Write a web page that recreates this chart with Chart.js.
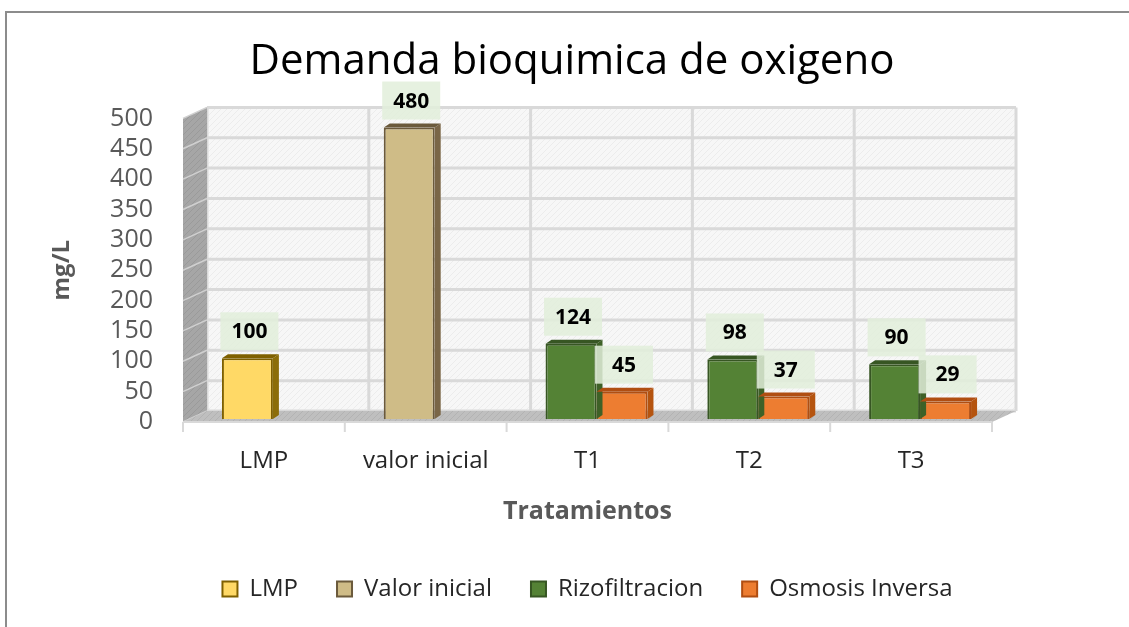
<!DOCTYPE html>
<html>
<head>
<meta charset="utf-8">
<script src="https://cdn.jsdelivr.net/npm/chart.js@4"></script>
<style>
  body { margin: 0; background: #fff; }
  #marco { position: absolute; left: 5px; top: 11px; width: 1200px; height: 700px; border: 2px solid #8c8c8c; }
  #wrap { position: absolute; left: 0; top: 0; width: 1129px; height: 627px; }
</style>
</head>
<body>
<div id="marco"></div>
<div id="wrap"><canvas id="grafico"></canvas></div>
<script>
// datos del grafico
var categorias = ['LMP', 'valor inicial', 'T1', 'T2', 'T3'];
var seriesNombres = ['LMP', 'Valor inicial', 'Rizofiltracion', 'Osmosis Inversa'];
var lmp = [100, null, null, null, null];
var valorInicial = [null, 480, null, null, null];
var rizofiltracion = [null, null, 124, 98, 90];
var osmosisInversa = [null, null, 45, 37, 29];

// colores de cada serie
var rellenos = ['#FFD966', '#CFBC87', '#548235', '#ED7D31'];
var bordes = ['#7F6000', '#6B5A3C', '#375623', '#B04E12'];
var lados = ['#8C6D08', '#7A6647', '#3E6127', '#B5540F'];
var pilas = ['a', 'a', 'a', 'b']; // posicion de cada serie dentro de la categoria

var dx = 24, dy = 11; // profundidad de las paredes
var bx = 6, by = 4;   // profundidad de las barras
var fondoX = 9, fondoY = -3; // las barras van un poco hacia el fondo

function trama(base, linea) {
    var c = document.createElement('canvas');
    c.width = 6; c.height = 6;
    var g = c.getContext('2d');
    g.fillStyle = base; g.fillRect(0, 0, 6, 6);
    g.strokeStyle = linea; g.lineWidth = 1;
    g.beginPath(); g.moveTo(0, 6); g.lineTo(6, 0); g.stroke();
    return c;
}

function poligono(ctx, pts, color) {
    ctx.beginPath();
    ctx.moveTo(pts[0][0], pts[0][1]);
    for (var i = 1; i < pts.length; i++) ctx.lineTo(pts[i][0], pts[i][1]);
    ctx.closePath();
    ctx.fillStyle = color;
    ctx.fill();
}

function linea(ctx, x1, y1, x2, y2) {
    ctx.beginPath(); ctx.moveTo(x1, y1); ctx.lineTo(x2, y2); ctx.stroke();
}

// paredes 3D (fondo, lateral y piso)
var paredes = {
    id: 'paredes',
    beforeDatasetsDraw: function (chart) {
        var ctx = chart.ctx, a = chart.chartArea, y = chart.scales.y;
        var n = categorias.length;
        ctx.save();
        ctx.fillStyle = ctx.createPattern(trama('#f7f7f7', '#ececec'), 'repeat');
        ctx.fillRect(a.left + dx, a.top - dy, a.width, a.height);
        ctx.strokeStyle = '#d9d9d9';
        ctx.lineWidth = 3;
        y.ticks.forEach(function (t) {
            var py = y.getPixelForValue(t.value) - dy;
            linea(ctx, a.left + dx, py, a.right + dx, py);
        });
        for (var i = 0; i <= n; i++) {
            var px = a.left + i * a.width / n + dx;
            linea(ctx, px, a.top - dy, px, a.bottom - dy);
        }
        // pared lateral
        poligono(ctx, [[a.left, a.top], [a.left + dx, a.top - dy], [a.left + dx, a.bottom - dy], [a.left, a.bottom]],
            ctx.createPattern(trama('#a6a6a6', '#9a9a9a'), 'repeat'));
        ctx.strokeStyle = '#d0d0d0';
        ctx.lineWidth = 1.5;
        y.ticks.forEach(function (t) {
            var py = y.getPixelForValue(t.value);
            linea(ctx, a.left, py, a.left + dx, py - dy);
        });
        // piso
        poligono(ctx, [[a.left, a.bottom], [a.right, a.bottom], [a.right + dx, a.bottom - dy], [a.left + dx, a.bottom - dy]],
            ctx.createPattern(trama('#bfbfbf', '#b3b3b3'), 'repeat'));
        ctx.strokeStyle = '#d9d9d9';
        ctx.lineWidth = 2;
        linea(ctx, a.left, a.bottom, a.right, a.bottom);
        for (var k = 0; k <= n; k++) {
            var qx = a.left + k * a.width / n;
            linea(ctx, qx, a.bottom, qx, a.bottom + 10);
        }
        ctx.restore();
        // desplazar las barras hacia el fondo
        ctx.save();
        ctx.translate(fondoX, fondoY);
    },
    afterDatasetsDraw: function (chart) {
        var ctx = chart.ctx;
        // caras laterales y superiores de las barras
        chart.data.datasets.forEach(function (ds, i) {
            chart.getDatasetMeta(i).data.forEach(function (bar, j) {
                if (ds.data[j] == null) return;
                var p = bar.getProps(['x', 'y', 'base', 'width'], true);
                var l = p.x - p.width / 2, r = p.x + p.width / 2;
                poligono(ctx, [[r, p.y], [r + bx, p.y - by], [r + bx, p.base - by], [r, p.base]], lados[i]);
                poligono(ctx, [[l, p.y], [l + bx, p.y - by], [r + bx, p.y - by], [r, p.y]], bordes[i]);
            });
        });
        // etiquetas de datos
        ctx.font = 'bold 21px "Open Sans"';
        ctx.textAlign = 'center';
        ctx.textBaseline = 'middle';
        chart.data.datasets.forEach(function (ds, i) {
            chart.getDatasetMeta(i).data.forEach(function (bar, j) {
                if (ds.data[j] == null) return;
                var p = bar.getProps(['x', 'y'], true);
                var cx = p.x + 2, cy = p.y - 27;
                ctx.fillStyle = 'rgba(226,239,218,0.85)';
                ctx.fillRect(cx - 29, cy - 19, 58, 38);
                ctx.fillStyle = '#000';
                ctx.fillText(ds.data[j], cx, cy + 1);
            });
        });
        ctx.restore();
    }
};

var datos = [lmp, valorInicial, rizofiltracion, osmosisInversa];
var conjuntos = datos.map(function (d, i) {
    return {
        label: seriesNombres[i],
        data: d,
        stack: pilas[i],
        backgroundColor: rellenos[i],
        borderColor: bordes[i],
        borderWidth: 2,
        categoryPercentage: 0.63,
        barPercentage: 1,
        maxBarThickness: 51
    };
});

var ctx = document.getElementById('grafico').getContext('2d');
var grafico = new Chart(ctx, {
    type: 'bar',
    data: { labels: categorias, datasets: conjuntos },
    options: {
        responsive: true,
        maintainAspectRatio: false,
        animation: false,
        layout: { padding: { left: 15, right: 0, top: 0, bottom: 16 } },
        plugins: {
            title: {
                display: true,
                text: 'Demanda bioquimica de oxigeno',
                color: '#000',
                font: { family: 'Open Sans', size: 42, weight: 'normal' },
                padding: { top: 37, bottom: 31 }
            },
            legend: {
                position: 'bottom',
                fullSize: false,
                labels: {
                    color: '#262626',
                    font: { family: 'Open Sans', size: 24 },
                    boxWidth: 15,
                    boxHeight: 15,
                    padding: 39
                }
            },
            tooltip: { enabled: false }
        },
        scales: {
            x: {
                grid: { display: false, drawTicks: false },
                border: { display: false },
                ticks: { color: '#262626', font: { family: 'Open Sans', size: 24 }, padding: 25 },
                title: {
                    display: true,
                    text: 'Tratamientos',
                    color: '#595959',
                    font: { family: 'Open Sans', size: 25, weight: 'bold' },
                    padding: { top: 0, bottom: 11 }
                },
                afterFit: function (s) { s.height = 116; }
            },
            y: {
                min: 0,
                max: 500,
                grid: { display: false, drawTicks: false },
                border: { display: false },
                ticks: {
                    stepSize: 50, autoSkip: false, crossAlign: 'near',
                    color: '#595959', font: { family: 'Open Sans', size: 25 }, padding: 30
                },
                title: {
                    display: true,
                    text: 'mg/L',
                    color: '#595959',
                    font: { family: 'Open Sans', size: 24, weight: 'bold' },
                    padding: { top: 33, bottom: 0 }
                },
                afterFit: function (s) { s.width = 168; }
            },
            // eje vacio a la derecha para dejar sitio a la pared del fondo
            derecha: {
                type: 'linear',
                position: 'right',
                grid: { display: false },
                border: { display: false },
                ticks: { display: false },
                afterFit: function (s) { s.width = 137; }
            }
        }
    },
    plugins: [paredes]
});
</script>
</body>
</html>
